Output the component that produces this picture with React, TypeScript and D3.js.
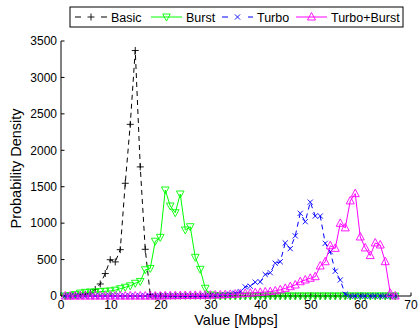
import React from 'react';
import * as d3 from 'd3';

// Histogram bin centres (Mbps) shared by all four series
const binCenters = d3.range(67).map((i) => i + 0.85);

const basic = [
  0, 3, 8, 15, 25, 45, 90, 165, 308, 498,
  468, 636, 1547, 2356, 3370, 1772, 641, 20, 0, 0,
  0, 0, 0, 0, 0, 0, 0, 0, 0, 0,
  0, 0, 0, 0, 0, 0, 0, 0, 0, 0,
  0, 0, 0, 0, 0, 0, 0, 0, 0, 0,
  0, 0, 0, 0, 0, 0, 0, 0, 0, 0,
  0, 0, 0, 0, 0, 0, 0,
];

const burst = [
  0, 5, 20, 40, 50, 55, 55, 60, 65, 70,
  80, 100, 120, 140, 175, 200, 360, 378, 752, 805,
  1455, 1235, 1143, 1400, 906, 951, 531, 366, 106, 15,
  3, 0, 0, 0, 0, 0, 0, 0, 0, 0,
  0, 0, 0, 0, 0, 0, 0, 0, 0, 0,
  0, 0, 0, 0, 0, 0, 0, 0, 0, 0,
  0, 0, 0, 0, 0, 0, 0,
];

const turbo = [
  0, 0, 0, 0, 0, 0, 0, 0, 0, 0,
  0, 0, 0, 0, 0, 0, 0, 0, 0, 0,
  0, 0, 0, 0, 0, 0, 0, 0, 0, 3,
  5, 10, 15, 25, 40, 60, 125, 135, 190, 195,
  295, 320, 450, 470, 728, 650, 825, 1135, 1020, 1288,
  1098, 1098, 723, 608, 340, 220, 25, 0, 0, 0,
  0, 0, 0, 0, 0, 0, 0,
];

const turboBurst = [
  0, 0, 0, 0, 0, 0, 0, 0, 0, 0,
  0, 0, 0, 0, 0, 0, 0, 0, 0, 0,
  3, 4, 5, 6, 7, 8, 9, 10, 11, 12,
  14, 16, 18, 22, 26, 30, 35, 40, 45, 50,
  55, 60, 70, 85, 105, 128, 151, 196, 220, 243,
  265, 412, 470, 690, 654, 997, 935, 1305, 1405, 810,
  660, 555, 728, 700, 471, 37, 0,
];

const seriesNames = ['Basic', 'Burst', 'Turbo', 'Turbo+Burst'];
const seriesValues = [basic, burst, turbo, turboBurst];
const seriesColors = ['#000000', '#00ff00', '#0000ff', '#ff00ff'];
const seriesDashed = [true, false, true, false];
const seriesMarkers = ['plus', 'triDown', 'cross', 'triUp'];

const xTicks = [0, 10, 20, 30, 40, 50, 60, 70];
const yTicks = [0, 500, 1000, 1500, 2000, 2500, 3000, 3500];

const W = 419;
const H = 331;
const left = 61;
const right = 411;
const top = 41;
const bottom = 296;
const FONT = "'Liberation Sans', Arial, Helvetica, sans-serif";

const x = d3.scaleLinear().domain([0, 70]).range([left, right]);
const y = d3.scaleLinear().domain([0, 3500]).range([bottom, top]);

function Marker({ kind, cx, cy, color }: { kind: string; cx: number; cy: number; color: string }) {
  let d = '';
  if (kind === 'plus') d = 'M-3.5,0H3.5M0,-3.5V3.5';
  else if (kind === 'cross') d = 'M-2.6,-2.6L2.6,2.6M-2.6,2.6L2.6,-2.6';
  else if (kind === 'triDown') d = 'M-3.8,-3L3.8,-3L0,4Z';
  else d = 'M-4,3L4,3L0,-4.5Z';
  return (
    <path
      d={d}
      transform={`translate(${cx},${cy})`}
      fill="none"
      stroke={color}
      strokeWidth={0.9}
    />
  );
}

export default function App() {
  const line = d3
    .line<number>()
    .x((_, i) => x(binCenters[i]))
    .y((v) => y(v));

  const legendItems = [
    { x0: 75, x1: 107, tx: 111 },
    { x0: 151, x1: 182, tx: 186 },
    { x0: 222, x1: 253, tx: 257 },
    { x0: 296, x1: 327, tx: 331 },
  ];

  return (
    <svg
      width={W}
      height={H}
      style={{ position: 'absolute', left: 0, top: 0, background: '#fff' }}
      fontFamily={FONT}
    >
      <rect x={0} y={0} width={W} height={H} fill="#fff" />

      {/* axes */}
      <line x1={left} y1={top} x2={left} y2={bottom} stroke="#000" strokeWidth={1} />
      <line x1={left} y1={bottom} x2={right} y2={bottom} stroke="#000" strokeWidth={1} />
      {yTicks.map((t) => (
        <g key={`y${t}`}>
          <line x1={left} x2={left + 3.5} y1={y(t)} y2={y(t)} stroke="#000" />
          <text x={left - 4} y={y(t)} dy="0.36em" textAnchor="end" fontSize={12}>
            {t}
          </text>
        </g>
      ))}
      {xTicks.map((t) => (
        <g key={`x${t}`}>
          <line x1={x(t)} x2={x(t)} y1={bottom} y2={bottom - 3.5} stroke="#000" />
          <text x={x(t)} y={309} textAnchor="middle" fontSize={12}>
            {t}
          </text>
        </g>
      ))}
      <text x={(left + right) / 2} y={325} textAnchor="middle" fontSize={14.5}>
        Value [Mbps]
      </text>
      <text
        transform={`translate(21,${(top + bottom) / 2}) rotate(-90)`}
        textAnchor="middle"
        fontSize={14.5}
      >
        Probability Density
      </text>

      {/* series */}
      {seriesValues.map((vals, s) => (
        <g key={seriesNames[s]}>
          <path
            d={line(vals) || ''}
            fill="none"
            stroke={seriesColors[s]}
            strokeWidth={1}
            strokeDasharray={seriesDashed[s] ? '5,4' : undefined}
          />
          {vals.map((v, i) => (
            <Marker
              key={i}
              kind={seriesMarkers[s]}
              cx={x(binCenters[i])}
              cy={y(v)}
              color={seriesColors[s]}
            />
          ))}
        </g>
      ))}

      {/* legend */}
      <rect x={70} y={7} width={333} height={20} fill="#fff" stroke="#000" strokeWidth={1} />
      {seriesNames.map((name, s) => {
        const it = legendItems[s];
        const cy = 17;
        return (
          <g key={`lg${name}`}>
            <line
              x1={it.x0}
              x2={it.x1}
              y1={cy}
              y2={cy}
              stroke={seriesColors[s]}
              strokeWidth={1}
              strokeDasharray={seriesDashed[s] ? '6,20' : undefined}
            />
            <Marker kind={seriesMarkers[s]} cx={(it.x0 + it.x1) / 2} cy={cy} color={seriesColors[s]} />
            <text x={it.tx} y={cy} dy="0.36em" fontSize={12.5}>
              {name}
            </text>
          </g>
        );
      })}
    </svg>
  );
}
